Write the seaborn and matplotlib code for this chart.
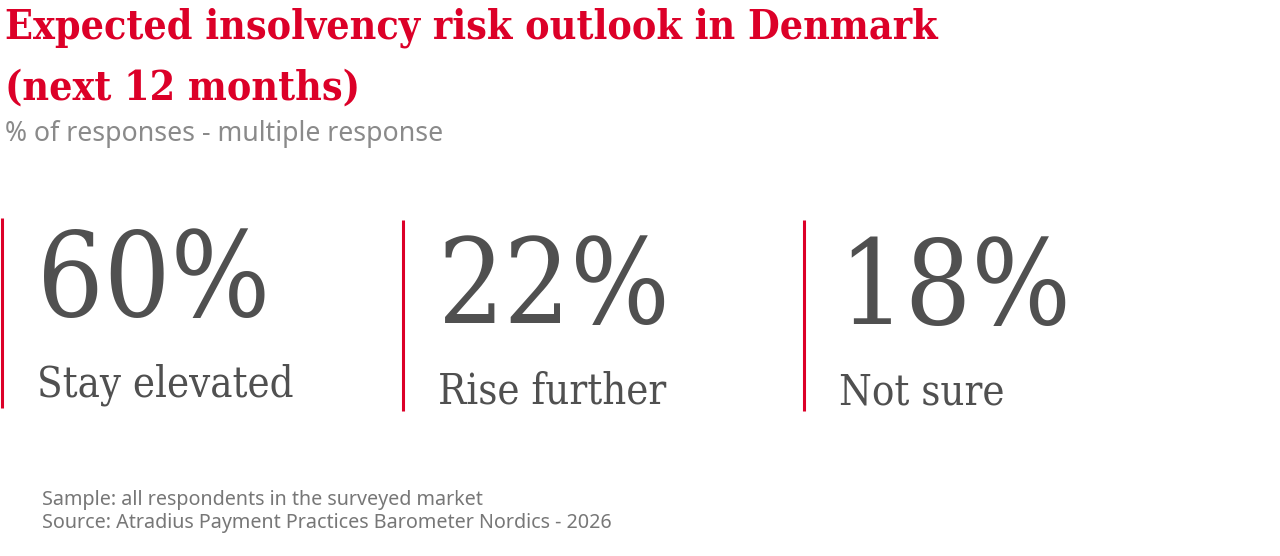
import matplotlib
matplotlib.use("Agg")
import matplotlib.pyplot as plt
import seaborn as sns

TITLE = "Expected insolvency risk outlook in Denmark\n(next 12 months)"
SUBTITLE = "% of responses - multiple response"
LABELS = ["Stay elevated", "Rise further", "Not sure"]
VALUES = [60, 22, 18]
FOOTER = ["Sample: all respondents in the surveyed market",
          "Source: Atradius Payment Practices Barometer Nordics - 2026"]

RED = "#dc0028"
DARK = "#505050"
GREY = "#8a8a8a"
FOOT = "#777777"


def main():

    sns.set_theme(style="white")
    plt.rcParams["font.family"] = ["DejaVu Serif"]

    fig = plt.figure(figsize=(12.8, 5.56), dpi=100)
    fig.patch.set_facecolor("white")

    # one column per category, spaced ~400px apart
    ax = fig.add_axes([0, 0, 1, 1])
    ax.set_xlim(-0.005, 3.188)
    ax.set_ylim(556, 0)
    ax.axis("off")

    idx = list(range(len(VALUES)))
    ax.vlines(idx, [218, 220, 220], [408, 411, 411], color=RED, lw=2.2)

    for i, (v, lab) in enumerate(zip(VALUES, LABELS)):
        off = [0, 7, 8][i]
        ax.text(i + 0.087, 316 + off, f"{v}%", fontsize=84, color=DARK,
                ha="left", va="baseline", fontstretch="condensed")
        ax.text(i + 0.088, 397 + off * 0.9, lab, fontsize=30, color=DARK,
                ha="left", va="baseline", fontstretch="condensed")

    fig.text(0.004, 518 / 556, TITLE.split("\n")[0], fontsize=29.4, color=RED,
             fontweight="bold", ha="left", va="baseline", fontstretch="condensed")
    fig.text(0.004, 456 / 556, TITLE.split("\n")[1], fontsize=29.4, color=RED,
             fontweight="bold", ha="left", va="baseline", fontstretch="condensed")
    fig.text(0.004, 415 / 556, SUBTITLE, fontsize=19.2, color=GREY,
             ha="left", va="baseline", family="Noto Sans")

    fig.text(42 / 1280, 51 / 556, FOOTER[0], fontsize=14.2, color=FOOT,
             ha="left", va="baseline", family="Noto Sans")
    fig.text(42 / 1280, 28 / 556, FOOTER[1], fontsize=14.2, color=FOOT,
             ha="left", va="baseline", family="Noto Sans")

    fig.savefig("out.png", dpi=100, facecolor="white")


if __name__ == "__main__":

    main()
